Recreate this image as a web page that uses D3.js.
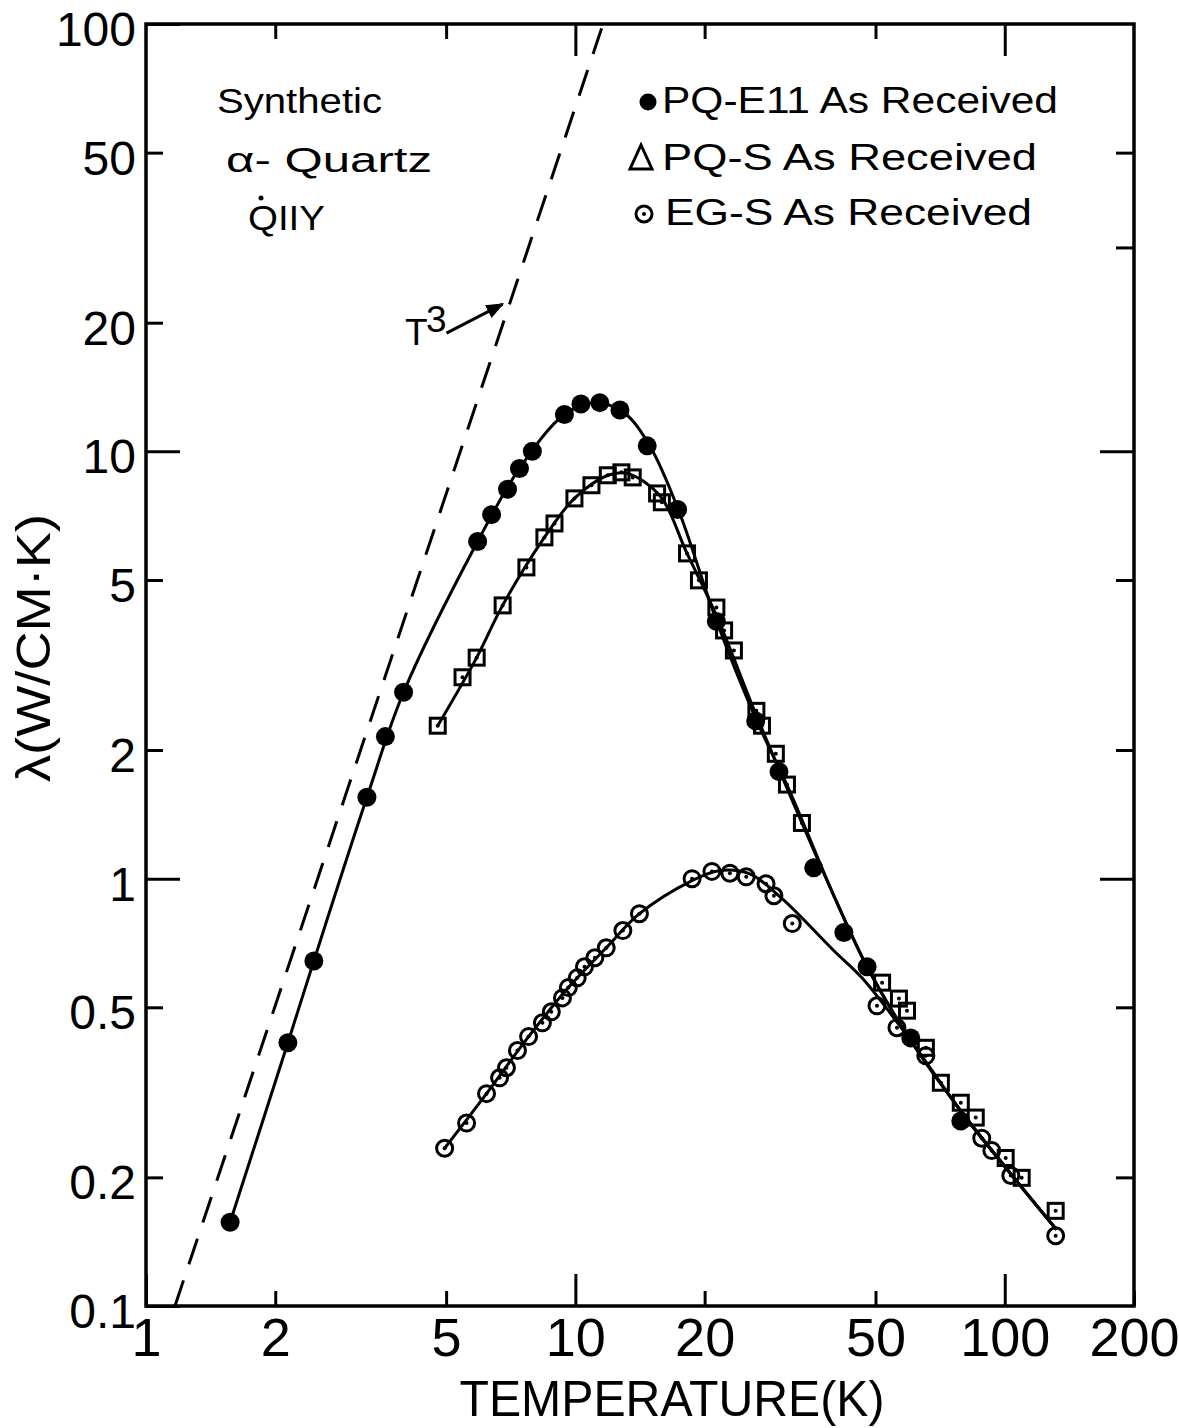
<!DOCTYPE html>
<html>
<head>
<meta charset="utf-8">
<script src="https://cdn.jsdelivr.net/npm/d3@7"></script>
<style>
  body { margin: 0; background: #fff; }
  text { font-family: "Liberation Sans", Arial, "DejaVu Sans", sans-serif; fill: #000; }
</style>
</head>
<body>
<div id="chart"></div>
<script>
// tick values
var xTicks = [1, 2, 5, 10, 20, 50, 100, 200];
var yTicks = [0.1, 0.2, 0.5, 1, 2, 5, 10, 20, 50, 100];
var yTicksRight = [0.2, 0.5, 1, 2, 5, 10, 30, 50];

// PQ-E11 (filled circles)
var e11T = [1.57, 2.14, 2.46, 3.27, 3.61, 3.98, 5.92, 6.38, 6.95, 7.41, 7.94, 9.43, 10.3, 11.4, 12.7, 14.7, 17.3, 21.3, 26.3, 29.8, 35.9, 42.2, 47.8, 60.4, 79];
var e11L = [0.157, 0.413, 0.642, 1.55, 2.15, 2.73, 6.15, 7.11, 8.15, 9.12, 10.0, 12.2, 12.9, 13.0, 12.5, 10.3, 7.31, 4.0, 2.34, 1.78, 1.06, 0.748, 0.622, 0.424, 0.271];

// PQ-S (open squares)
var sT = [4.78, 5.46, 5.89, 6.77, 7.69, 8.47, 8.94, 9.95, 10.9, 11.9, 12.8, 13.6, 15.5, 15.9, 18.2, 19.4, 21.3, 22.2, 23.4, 26.4, 27.2, 29.3, 31.1, 33.7, 51.8, 56.7, 59.2, 65.5, 71.0, 79.0, 85.6, 100.5, 109.5, 131.4];
var sL = [2.28, 2.96, 3.29, 4.36, 5.35, 6.29, 6.78, 7.76, 8.33, 8.79, 8.93, 8.69, 7.97, 7.60, 5.77, 4.99, 4.31, 3.81, 3.42, 2.47, 2.28, 1.96, 1.66, 1.35, 0.571, 0.524, 0.491, 0.402, 0.333, 0.299, 0.276, 0.222, 0.1995, 0.167];

// EG-S (dotted open circles)
var egT = [4.96, 5.58, 6.21, 6.66, 6.91, 7.33, 7.78, 8.38, 8.79, 9.33, 9.63, 10.1, 10.5, 11.1, 11.8, 12.9, 14.1, 18.7, 20.8, 22.9, 25.0, 27.8, 29.0, 32.0, 50.4, 56.1, 65.5, 88.4, 93.3, 103.3, 131.4];
var egL = [0.234, 0.268, 0.314, 0.342, 0.361, 0.396, 0.427, 0.460, 0.488, 0.526, 0.556, 0.586, 0.622, 0.653, 0.689, 0.756, 0.828, 1.0, 1.04, 1.03, 1.01, 0.973, 0.912, 0.785, 0.504, 0.448, 0.385, 0.247, 0.231, 0.202, 0.146];

// hand drawn fit curves
var fitE11T = [1.57, 2.14, 2.46, 3.27, 3.98, 5.92, 7.41, 9.43, 11.1, 13.0, 14.9, 17.4, 21.3, 26.3, 31.5, 40.0, 47.8, 60.4, 79, 102, 132];
var fitE11L = [0.157, 0.413, 0.642, 1.55, 2.73, 6.15, 9.12, 12.2, 13.0, 12.3, 10.3, 7.27, 4.02, 2.37, 1.61, 0.912, 0.622, 0.418, 0.286, 0.207, 0.151];
var fitST = [4.78, 5.89, 6.77, 8.47, 9.95, 11.9, 13.2, 15.7, 18.2, 21.3, 26.4, 33.7, 40.0, 47.8, 60.4, 79, 102, 132];
var fitSL = [2.28, 3.29, 4.36, 6.29, 7.76, 8.79, 8.88, 7.89, 5.77, 4.13, 2.41, 1.35, 0.912, 0.622, 0.418, 0.286, 0.207, 0.151];
var fitEgT = [4.96, 6.21, 7.78, 9.63, 11.8, 14.1, 18.7, 21.6, 25.4, 30.3, 40.0, 46.5, 60.4, 79, 102, 132];
var fitEgL = [0.234, 0.314, 0.427, 0.556, 0.689, 0.828, 0.99, 1.044, 1.027, 0.898, 0.678, 0.586, 0.418, 0.286, 0.207, 0.151];

// T^3 reference line end points
var t3T = [1.168, 11.6];
var t3L = [0.1, 100];

var legendLabels = ["PQ-E11 As Received", "PQ-S As Received", "EG-S As Received"];

var W = 1179, H = 1428;
var margin = {top: 24, right: 45, bottom: 122, left: 146};

var svg = d3.select("#chart").append("svg")
    .attr("width", W)
    .attr("height", H);

var x = d3.scaleLog().domain([1, 200]).range([margin.left, W - margin.right]);
var y = d3.scaleLog().domain([0.1, 100]).range([H - margin.bottom, margin.top]);

function isDecade(v) {
    var l = Math.log10(v);
    return Math.abs(l - Math.round(l)) < 1e-9;
}

function zip(a, b) {
    return a.map(function(d, i) { return [d, b[i]]; });
}

// axes, all ticks point inward
var bottomAxis = svg.append("g")
    .attr("transform", "translate(0," + y.range()[0] + ")")
    .call(d3.axisBottom(x).tickValues(xTicks).tickFormat(function(d) { return d; })
        .tickSizeInner(-15).tickSizeOuter(0).tickPadding(12));
bottomAxis.selectAll(".tick line").attr("y2", function(d) { return isDecade(d) ? -32 : -15; });
bottomAxis.selectAll("text").style("font-size", "54px").style("font-family", null);

var leftAxis = svg.append("g")
    .attr("transform", "translate(" + x.range()[0] + ",0)")
    .call(d3.axisLeft(y).tickValues(yTicks).tickFormat(function(d) { return String(d); })
        .tickSizeInner(-17).tickSizeOuter(0).tickPadding(10));
leftAxis.selectAll(".tick line").attr("x2", function(d) { return isDecade(d) ? 34 : 17; });
leftAxis.selectAll("text").style("font-size", "48px").style("font-family", null).attr("dy", "0.45em");

var topAxis = svg.append("g")
    .attr("transform", "translate(0," + y.range()[1] + ")")
    .call(d3.axisTop(x).tickValues(xTicks.slice(1, -1)).tickFormat("")
        .tickSizeInner(-15).tickSizeOuter(0));
topAxis.selectAll(".tick line").attr("y2", function(d) { return isDecade(d) ? 32 : 15; });

var rightAxis = svg.append("g")
    .attr("transform", "translate(" + x.range()[1] + ",0)")
    .call(d3.axisRight(y).tickValues(yTicksRight).tickFormat("")
        .tickSizeInner(-18).tickSizeOuter(0));
rightAxis.selectAll(".tick line").attr("x2", function(d) { return isDecade(d) ? -34 : -18; });

svg.selectAll(".domain").remove();
svg.selectAll(".tick line").attr("stroke", "#000").attr("stroke-width", 3);

svg.append("rect")
    .attr("x", x.range()[0])
    .attr("y", y.range()[1])
    .attr("width", x.range()[1] - x.range()[0])
    .attr("height", y.range()[0] - y.range()[1])
    .attr("fill", "none")
    .attr("stroke", "#000")
    .attr("stroke-width", 3.5);

// axis titles
svg.append("text")
    .attr("x", 672).attr("y", 1416)
    .attr("text-anchor", "middle")
    .attr("textLength", 425).attr("lengthAdjust", "spacingAndGlyphs")
    .style("font-size", "50px")
    .text("TEMPERATURE(K)");

svg.append("text")
    .attr("transform", "translate(50,648) rotate(-90)")
    .attr("text-anchor", "middle")
    .attr("textLength", 268).attr("lengthAdjust", "spacingAndGlyphs")
    .style("font-size", "48px")
    .text("λ(W/CM·K)");

// curves
var line = d3.line()
    .x(function(d) { return x(d[0]); })
    .y(function(d) { return y(d[1]); })
    .curve(d3.curveCatmullRom.alpha(0.5));

var plot = svg.append("g");

plot.append("path")
    .attr("d", line(zip(t3T, t3L)))
    .attr("fill", "none").attr("stroke", "#000")
    .attr("stroke-width", 3).attr("stroke-dasharray", "27,17");

[[fitE11T, fitE11L], [fitST, fitSL], [fitEgT, fitEgL]].forEach(function(c) {
    plot.append("path")
        .attr("d", line(zip(c[0], c[1])))
        .attr("fill", "none").attr("stroke", "#000")
        .attr("stroke-width", 3);
});

// markers
plot.selectAll(".e11")
    .data(zip(e11T, e11L))
    .enter().append("circle")
    .attr("cx", function(d) { return x(d[0]); })
    .attr("cy", function(d) { return y(d[1]); })
    .attr("r", 9.5)
    .attr("fill", "#000");

var sq = plot.selectAll(".sq")
    .data(zip(sT, sL))
    .enter().append("g")
    .attr("transform", function(d) { return "translate(" + x(d[0]) + "," + y(d[1]) + ")"; });
sq.append("rect")
    .attr("x", -7.5).attr("y", -7.5).attr("width", 15).attr("height", 15)
    .attr("fill", "none").attr("stroke", "#000").attr("stroke-width", 3);
sq.append("circle").attr("r", 2).attr("fill", "#000");

var eg = plot.selectAll(".eg")
    .data(zip(egT, egL))
    .enter().append("g")
    .attr("transform", function(d) { return "translate(" + x(d[0]) + "," + y(d[1]) + ")"; });
eg.append("circle")
    .attr("r", 8).attr("fill", "none").attr("stroke", "#000").attr("stroke-width", 3);
eg.append("circle").attr("r", 2).attr("fill", "#000");

// legend
var legendY = [113, 170, 225];
var legendX = [662, 662, 665];
var legendLen = [396, 375, 367];
legendLabels.forEach(function(t, i) {
    svg.append("text")
        .attr("x", legendX[i]).attr("y", legendY[i])
        .attr("textLength", legendLen[i]).attr("lengthAdjust", "spacingAndGlyphs")
        .style("font-size", "36px")
        .text(t);
});
svg.append("circle").attr("cx", 648).attr("cy", 102).attr("r", 8.5).attr("fill", "#000");
svg.append("path").attr("d", "M630,169 L652,169 L641,145 Z")
    .attr("fill", "none").attr("stroke", "#000").attr("stroke-width", 3).attr("stroke-linejoin", "miter");
svg.append("circle").attr("cx", 644).attr("cy", 214).attr("r", 8)
    .attr("fill", "none").attr("stroke", "#000").attr("stroke-width", 3);
svg.append("circle").attr("cx", 644).attr("cy", 214).attr("r", 2).attr("fill", "#000");

// sample description
svg.append("text").attr("x", 217).attr("y", 113)
    .attr("textLength", 165).attr("lengthAdjust", "spacingAndGlyphs")
    .style("font-size", "35px").text("Synthetic");
svg.append("text").attr("x", 226).attr("y", 172)
    .attr("textLength", 206).attr("lengthAdjust", "spacingAndGlyphs")
    .style("font-size", "35px").text("α- Quartz");
svg.append("text").attr("x", 248).attr("y", 230)
    .attr("textLength", 77).attr("lengthAdjust", "spacingAndGlyphs")
    .style("font-size", "35px").text("QIIY");
svg.append("circle").attr("cx", 261).attr("cy", 198).attr("r", 2.5).attr("fill", "#000");

// T^3 label with arrow
svg.append("defs").append("marker")
    .attr("id", "head")
    .attr("viewBox", "0 0 10 10")
    .attr("refX", 9).attr("refY", 5)
    .attr("markerWidth", 6).attr("markerHeight", 6)
    .attr("orient", "auto")
    .append("path").attr("d", "M0,1 L10,5 L0,9 Z").attr("fill", "#000");

svg.append("text").attr("x", 405).attr("y", 345)
    .style("font-size", "37px").text("T");
svg.append("text").attr("x", 426).attr("y", 332)
    .style("font-size", "37px").text("3");
svg.append("line")
    .attr("x1", x(5.01)).attr("y1", y(18.9))
    .attr("x2", x(6.77)).attr("y2", y(22.1))
    .attr("stroke", "#000").attr("stroke-width", 3)
    .attr("marker-end", "url(#head)");
</script>
</body>
</html>
